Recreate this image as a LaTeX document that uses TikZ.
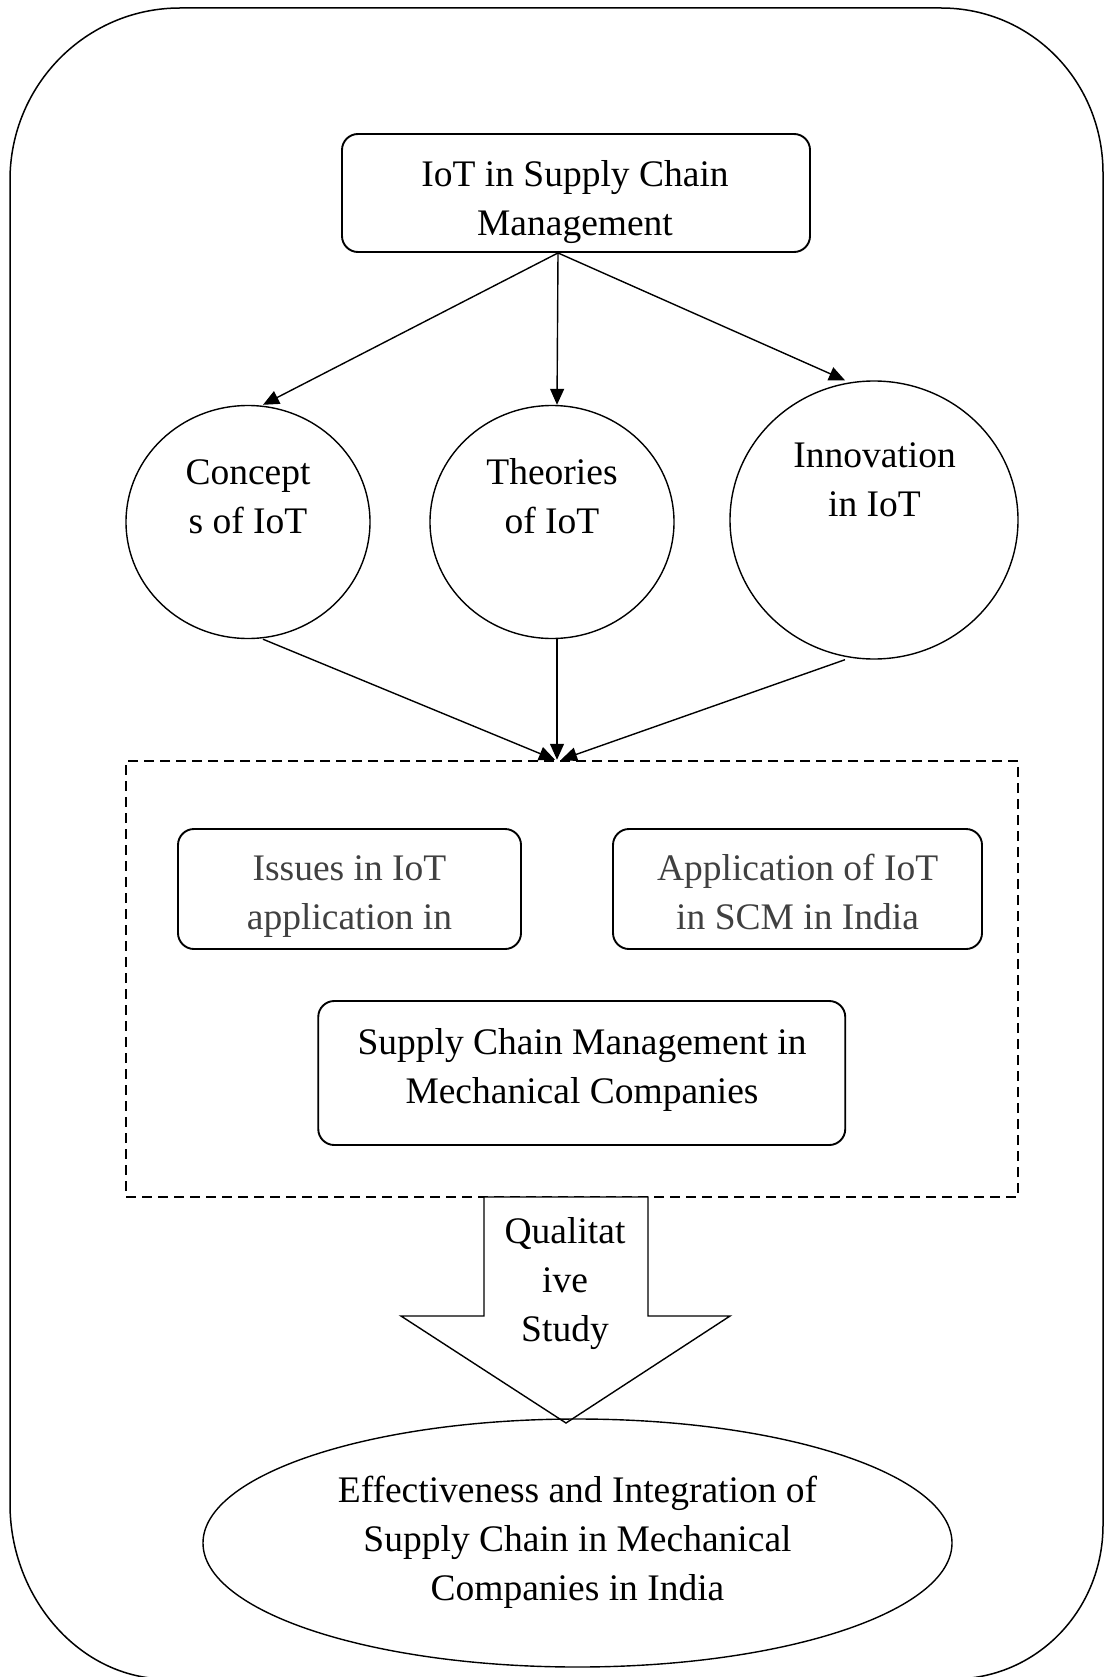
\documentclass[tikz,border=0pt]{standalone}
\usepackage{fontspec}
\setmainfont{Liberation Serif}
\usetikzlibrary{shapes.geometric,arrows.meta}

\tikzset{
  lbl/.style={font=\fontsize{37.5}{49}\selectfont, align=center, inner sep=0pt},
  greytext/.style={text=black!75},
  roundbox/.style={draw, line width=1.9pt, rounded corners=16pt, inner sep=0pt},
  oval/.style={draw, ellipse, line width=1.4pt, inner sep=0pt},
  link/.style={line width=1.4pt, -{Triangle[length=16pt,width=14pt]}},
  groupbox/.style={draw, line width=2.5pt, dash pattern=on 10pt off 6pt, inner sep=0pt},
}

\begin{document}
\begin{tikzpicture}[x=1pt,y=-1pt]
\useasboundingbox (0,0) rectangle (1104,1677);

% outer rounded frame
\draw[line width=1.5pt]
  (10,180) .. controls (10,85) and (86,8) .. (180,8)
  -- (941,8) .. controls (1032,8) and (1103,82) .. (1103,173)
  -- (1103,1525) .. controls (1103,1610) and (1037,1679) .. (953,1679)
  -- (167,1679) .. controls (80,1679) and (10,1598) .. (10,1504)
  -- cycle;

% top box
\node[roundbox, minimum width=468pt, minimum height=118pt] (top) at (576,193) {};
\node[lbl] (toptext) at (575,201.5) {\strut IoT in Supply Chain\\\strut Management};

% three topic ellipses
\node[oval, minimum width=244pt, minimum height=233pt] (concepts) at (248,522) {};
\node[lbl] (conceptstext) at (248,498.7) {\strut Concept\\\strut s of IoT};
\node[oval, minimum width=244pt, minimum height=233pt] (theories) at (552,522) {};
\node[lbl] (theoriestext) at (552,498.7) {\strut Theories\\\strut of IoT};
\node[oval, minimum width=288pt, minimum height=278pt] (innov) at (874,520) {};
\node[lbl] (innovtext) at (874.5,481.7) {\strut Innovation\\\strut in IoT};

% dashed group
\node[groupbox, minimum width=892pt, minimum height=436pt] (grp) at (572,979) {};

\node[roundbox, minimum width=343pt, minimum height=120pt] (issues) at (349.5,889) {};
\node[lbl, greytext] (issuestext) at (349.5,894.7) {\strut Issues in IoT\\\strut application in};
\node[roundbox, minimum width=369pt, minimum height=120pt] (appl) at (797.5,889) {};
\node[lbl, greytext] (appltext) at (797.6,894.7) {\strut Application of IoT\\\strut in SCM in India};
\node[roundbox, minimum width=527pt, minimum height=144pt] (scm) at (581.75,1073) {};
\node[lbl] (scmtext) at (582,1069.5) {\strut Supply Chain Management in\\\strut Mechanical Companies};

% connectors
\coordinate (hub) at ([xshift=-18pt]top.south);
\draw[link] (hub) -- ([xshift=15pt]concepts.north);
\draw[link] (hub) -- ([xshift=5pt]theories.north);
\draw[link] (hub) -- ([xshift=-29pt]innov.north);
\draw[link] ([xshift=15pt]concepts.south) -- ([xshift=-17pt]grp.north);
\draw[link] ([xshift=5pt]theories.south) -- ([xshift=-15pt]grp.north);
\draw[link] ([xshift=-29pt]innov.south) -- ([xshift=-11pt]grp.north);

% block arrow
\draw[line width=1.4pt, fill=white]
  (484,1197) -- (648,1197) -- (648,1316) -- (730,1316) -- (566,1423)
  -- (401,1316) -- (484,1316) -- cycle;
\node[lbl] (method) at (565,1282.2) {\strut Qualitat\\\strut ive\\\strut Study};

% outcome ellipse
\node[oval, minimum width=749pt, minimum height=248pt] (result) at (577.5,1543) {};
\node[lbl] (resulttext) at (577.5,1541.2) {\strut Effectiveness and Integration of\\\strut Supply Chain in Mechanical\\\strut Companies in India};
\end{tikzpicture}
\end{document}
